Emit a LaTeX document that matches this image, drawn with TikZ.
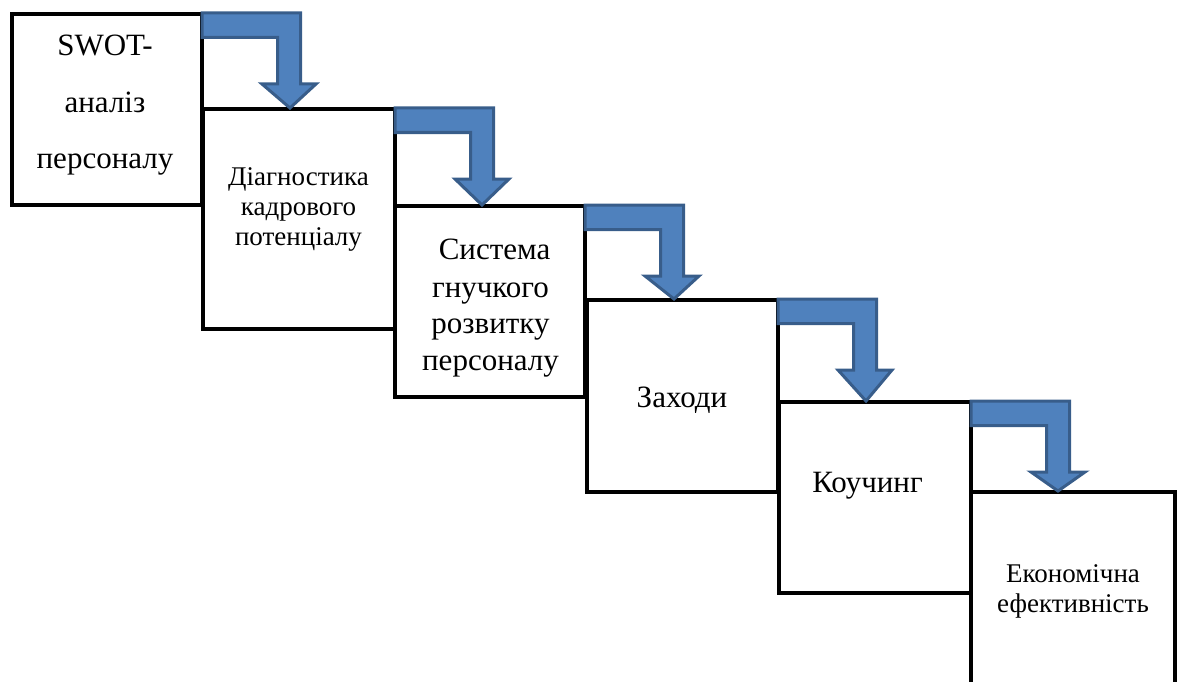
\documentclass[tikz,border=0pt]{standalone}
\usepackage{fontspec}
\setmainfont{Liberation Serif}
\definecolor{arrfill}{RGB}{79,129,189}
\definecolor{arrline}{RGB}{56,93,138}
\newcommand\bentarr[2]{%
  \draw[bent] ([shift={(0,-1)}]#1.north east)
    -- ([shift={(98.5,-1)}]#1.north east)
    -- ([shift={(98.5,70)}]#1.north east)
    -- ([shift={(114,70)}]#1.north east)
    -- ([shift={(87,-1)}]#2.north west)
    -- ([shift={(60,70)}]#1.north east)
    -- ([shift={(75.5,70)}]#1.north east)
    -- ([shift={(75.5,23.5)}]#1.north east)
    -- ([shift={(0,23.5)}]#1.north east)
    -- cycle;}
\begin{document}
\begin{tikzpicture}[x=1pt,y=-1pt,
  stepbox/.style={draw=black,line width=4pt,fill=white,rectangle,inner sep=0pt,outer sep=0pt},
  lbl/.style={anchor=base,inner sep=0pt},
  big/.style={font=\fontsize{31}{37}\selectfont},
  small/.style={font=\fontsize{27}{31}\selectfont},
  bent/.style={fill=arrfill,draw=arrline,line width=3pt,line join=miter}]
\useasboundingbox (0,0) rectangle (1177,682);
\begin{scope}
\clip (0,0) rectangle (1177,682);
\node[stepbox,minimum width=190pt,minimum height=191pt] (b1) at (107,109.5) {};
\node[stepbox,minimum width=192pt,minimum height=220pt] (b2) at (299,219) {};
\node[stepbox,minimum width=190pt,minimum height=191pt] (b3) at (490,301.5) {};
\node[stepbox,minimum width=191pt,minimum height=192pt] (b4) at (682.5,396) {};
\node[stepbox,minimum width=192pt,minimum height=191pt] (b5) at (875,497.5) {};
\node[stepbox,minimum width=204pt,minimum height=218pt] (b6) at (1073,601) {};

\bentarr{b1}{b2}
\bentarr{b2}{b3}
\bentarr{b3}{b4}
\bentarr{b4}{b5}
\bentarr{b5}{b6}
\end{scope}

\node[lbl,big] (t1a) at (105,56) {SWOT-};
\node[lbl,big] (t1b) at (105,113) {аналіз};
\node[lbl,big] (t1c) at (105,168) {персоналу};

\node[lbl,small] (t2a) at (298.5,185) {Діагностика};
\node[lbl,small] (t2b) at (298.5,215) {кадрового};
\node[lbl,small] (t2c) at (298.5,245) {потенціалу};

\node[lbl,big] (t3a) at (494.5,259) {Система};
\node[lbl,big] (t3b) at (490.5,297) {гнучкого};
\node[lbl,big] (t3c) at (490.5,333) {розвитку};
\node[lbl,big] (t3d) at (490.5,370) {персоналу};

\node[lbl,big] (t4) at (682,407) {Заходи};

\node[lbl,big] (t5) at (867.5,492) {Коучинг};

\node[lbl,small] (t6a) at (1073,582) {Економічна};
\node[lbl,small] (t6b) at (1073,612) {ефективність};
\end{tikzpicture}
\end{document}
